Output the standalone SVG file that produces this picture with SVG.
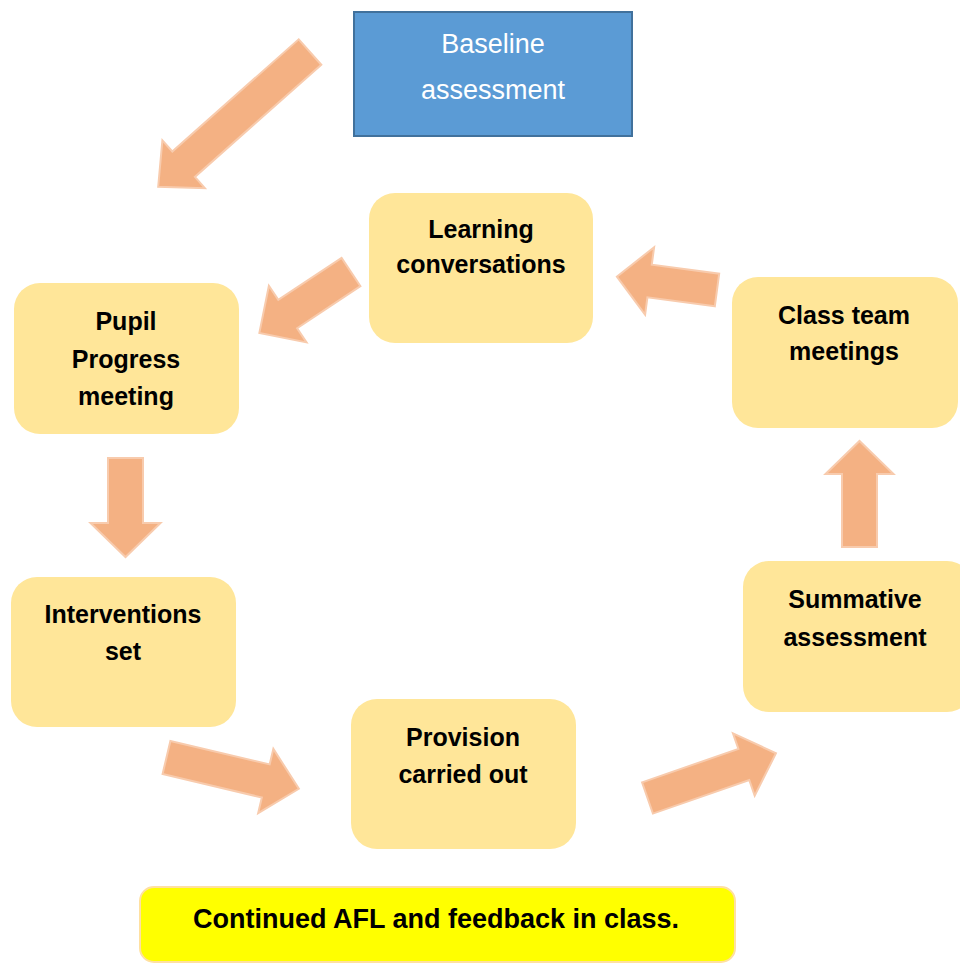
<svg xmlns="http://www.w3.org/2000/svg" width="960" height="965" viewBox="0 0 960 965">
<style>
.node{fill:#FFE699}
.lbl{font-family:"Liberation Sans",Arial,sans-serif;font-weight:bold;font-size:25px;fill:#000;text-anchor:middle}
.blue{fill:#5B9BD5;stroke:#41719C;stroke-width:2}
.bl{font-family:"Liberation Sans",Arial,sans-serif;font-size:27px;fill:#fff;text-anchor:middle}
.arr{fill:#F4B183;stroke:#F8CBAD;stroke-width:2;stroke-linejoin:miter}
.note{fill:#FFFF00;stroke:#FFE0A0;stroke-width:2}
</style>
<rect width="960" height="965" fill="#fff"/>
<g id="connectors">
<path class="arr" transform="translate(310,52) rotate(138.4)" d="M0,-17 L169,-17 L169,-32 L203,0 L169,32 L169,17 L0,17 Z"/>
<path class="arr" transform="translate(125.5,458) rotate(90)" d="M0,-17.5 L65,-17.5 L65,-35 L99,0 L65,35 L65,17.5 L0,17.5 Z"/>
<path class="arr" transform="translate(166.5,757.5) rotate(13.3)" d="M0,-17 L102,-17 L102,-33 L136,0 L102,33 L102,17 L0,17 Z"/>
<path class="arr" transform="translate(647.5,798) rotate(-19.2)" d="M0,-16.5 L102,-16.5 L102,-33 L136,0 L102,33 L102,16.5 L0,16.5 Z"/>
<path class="arr" transform="translate(859.5,547) rotate(-90)" d="M0,-17.5 L73,-17.5 L73,-34 L106,0 L73,34 L73,17.5 L0,17.5 Z"/>
<path class="arr" transform="translate(717,290) rotate(187.6)" d="M0,-16.5 L68,-16.5 L68,-34 L101,0 L68,34 L68,16.5 L0,16.5 Z"/>
<path class="arr" transform="translate(351,272) rotate(146.4)" d="M0,-17 L76,-17 L76,-34 L110,0 L76,34 L76,17 L0,17 Z"/>
</g>
<g id="baseline">
<rect class="blue" x="354" y="12" width="278" height="124"/>
<text class="bl" x="493" y="53">Baseline</text>
<text class="bl" x="493" y="99">assessment</text>
</g>
<g id="learning">
<rect class="node" x="369" y="193" width="224" height="150" rx="26"/>
<text class="lbl" x="481" y="238">Learning</text>
<text class="lbl" x="481" y="273">conversations</text>
</g>
<g id="classteam">
<rect class="node" x="732" y="277" width="226" height="151" rx="26"/>
<text class="lbl" x="844" y="324">Class team</text>
<text class="lbl" x="844" y="360">meetings</text>
</g>
<g id="pupil">
<rect class="node" x="14" y="283" width="225" height="151" rx="26"/>
<text class="lbl" x="126" y="330">Pupil</text>
<text class="lbl" x="126" y="368">Progress</text>
<text class="lbl" x="126" y="405">meeting</text>
</g>
<g id="interventions">
<rect class="node" x="11" y="577" width="225" height="150" rx="26"/>
<text class="lbl" x="123" y="623">Interventions</text>
<text class="lbl" x="123" y="660">set</text>
</g>
<g id="provision">
<rect class="node" x="351" y="699" width="225" height="150" rx="26"/>
<text class="lbl" x="463" y="746">Provision</text>
<text class="lbl" x="463" y="783">carried out</text>
</g>
<g id="summative">
<rect class="node" x="743" y="561" width="230" height="151" rx="26"/>
<text class="lbl" x="855" y="608">Summative</text>
<text class="lbl" x="855" y="646">assessment</text>
</g>
<g id="afl">
<rect class="note" x="140" y="887" width="595" height="75" rx="14"/>
<text class="lbl" x="436" y="928" style="font-size:27px">Continued AFL and feedback in class.</text>
</g>
</svg>
